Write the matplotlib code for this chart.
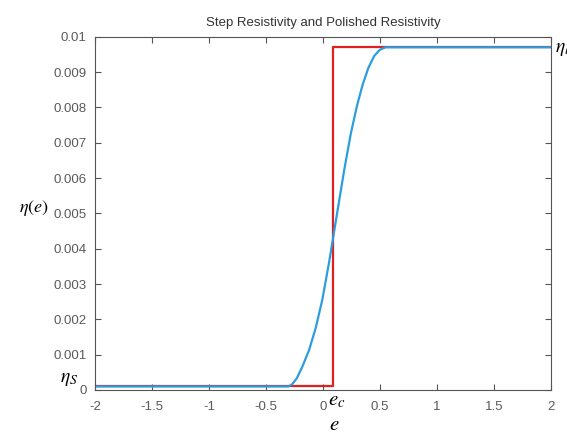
import numpy as np
import matplotlib
matplotlib.use("Agg")
import matplotlib.pyplot as plt

plt.rcParams["font.family"] = ["Liberation Sans", "DejaVu Sans"]
plt.rcParams["mathtext.fontset"] = "stix"

# ── dados ───────────────────────────────────────────────────────────────────
step_e = [-2.0, 0.088, 0.088, 2.0]
step_eta = [0.0001, 0.0001, 0.0097, 0.0097]

polished_e = [-2.0, -0.303, -0.27, -0.229, -0.18, -0.121, -0.063, -0.005,
              0.054, 0.12, 0.186, 0.245, 0.30, 0.35, 0.40, 0.45, 0.50,
              0.55, 2.0]
polished_eta = [0.0001, 0.0001, 0.00016, 0.00033, 0.00066, 0.00113, 0.00175,
                0.00255, 0.0036, 0.0049, 0.0062, 0.00725, 0.00805, 0.00865,
                0.00912, 0.00945, 0.00963, 0.0097, 0.0097]

xticks = [-2, -1.5, -1, -0.5, 0, 0.5, 1, 1.5, 2]
xticklabels = ["-2", "-1.5", "-1", "-0.5", "0", "0.5", "1", "1.5", "2"]
yticks = [0, 0.001, 0.002, 0.003, 0.004, 0.005, 0.006, 0.007, 0.008, 0.009, 0.01]
yticklabels = ["0", "0.001", "0.002", "0.003", "0.004", "0.005",
               "0.006", "0.007", "0.008", "0.009", "0.01"]

W, H = 567, 432
fig = plt.figure(figsize=(W / 100, H / 100), dpi=100)
ax = fig.add_axes([95 / W, 1 - 390 / H, (550.7 - 95) / W, (390 - 36.7) / H])

ax.plot(step_e, step_eta, color="#e01f1f", lw=1.6)
ax.plot(polished_e, polished_eta, color="#2b9de0", lw=1.6)

ax.set_xlim(-2, 2)
ax.set_ylim(0, 0.01)
ax.set_xticks(xticks)
ax.set_xticklabels(xticklabels)
ax.set_yticks(yticks)
ax.set_yticklabels(yticklabels)

cor_eixo = "#555555"
for s in ax.spines.values():
    s.set_color(cor_eixo)
    s.set_linewidth(0.8)
ax.tick_params(direction="in", length=4, width=0.8, color=cor_eixo,
               labelcolor="#5a5a5a", labelsize=9.5, top=True, right=True)
ax.tick_params(axis="x", pad=8)
ax.tick_params(axis="y", pad=6)

ax.set_title("Step Resistivity and Polished Resistivity", fontsize=9.5,
             color="#333333", pad=8)

# rótulos em estilo Times
def txt(x, y, s, size, ha="center"):
    fig.text(x / W, 1 - y / H, s, fontsize=size, ha=ha, va="center")

txt(34, 208, r"$\eta(e)$", 13)
txt(334, 424, r"$e$", 15)
txt(69, 380, r"$\eta_S$", 14)
txt(337, 400, r"$e_c$", 15)
txt(555, 50, r"$\eta_l$", 14, ha="left")

fig.savefig("out.png", dpi=100)
